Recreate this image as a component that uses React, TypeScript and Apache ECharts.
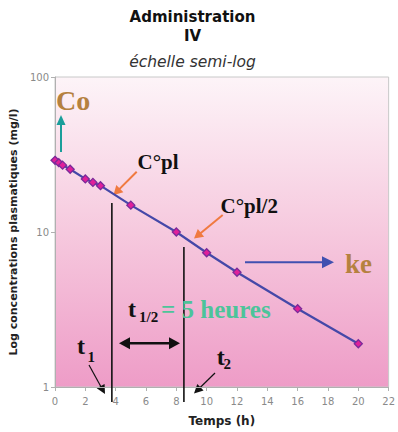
import React, { useEffect, useRef } from 'react';
import * as echarts from 'echarts';

const times = [0, 0.25, 0.5, 1, 2, 2.5, 3, 5, 8, 10, 12, 16, 20];
const concentrations = [29, 28, 27, 25.4, 22, 20.9, 19.9, 14.9, 10, 7.35, 5.5, 3.2, 1.9];
const titleLines = ['Administration', 'IV'];
const subtitle = 'échelle semi-log';
const yAxisName = 'Log concentrations plasmatiques (mg/l)';
const xAxisName = 'Temps (h)';
const xMin = 0;
const xMax = 22;
const xStep = 2;
const yMin = 1;
const yMax = 100;
const t1Time = 3.75;
const t2Time = 8.5;
const t1TopConc = 15.4;
const t2TopConc = 8.0;

const SERIF = "'Liberation Serif', 'DejaVu Serif', serif";
const SANS = "'DejaVu Sans', Verdana, sans-serif";

function arrow(x1: number, y1: number, x2: number, y2: number, color: string, lw: number, hl: number, hw: number, both = false) {
  const dx = x2 - x1, dy = y2 - y1;
  const L = Math.hypot(dx, dy);
  const ux = dx / L, uy = dy / L;
  const nx = -uy, ny = ux;
  const ex = x2 - ux * hl * 0.8, ey = y2 - uy * hl * 0.8;
  const sx = both ? x1 + ux * hl * 0.8 : x1, sy = both ? y1 + uy * hl * 0.8 : y1;
  const els: any[] = [
    { type: 'line', shape: { x1: sx, y1: sy, x2: ex, y2: ey }, style: { stroke: color, lineWidth: lw } },
  ];
  const bx = x2 - ux * hl, by = y2 - uy * hl;
  els.push({ type: 'polygon', shape: { points: [[x2, y2], [bx + nx * hw, by + ny * hw], [bx - nx * hw, by - ny * hw]] }, style: { fill: color } });
  if (both) {
    const cx = x1 + ux * hl, cy = y1 + uy * hl;
    els.push({ type: 'polygon', shape: { points: [[x1, y1], [cx + nx * hw, cy + ny * hw], [cx - nx * hw, cy - ny * hw]] }, style: { fill: color } });
  }
  return els;
}

function txt(text: string, x: number, y: number, font: string, fill: string, align = 'left') {
  return {
    type: 'text', x, y, z: 100,
    style: { text, font, fill, align, textAlign: align, verticalAlign: 'middle', textVerticalAlign: 'middle' },
  };
}

export default function App() {
  const ref = useRef<HTMLDivElement>(null);
  useEffect(() => {
    const chart = echarts.init(ref.current!, null, { renderer: 'svg' });
    const option: any = {
      animation: false,
      backgroundColor: '#ffffff',
      grid: {
        left: 55, right: 4, top: 77, bottom: 45,
        show: true,
        backgroundColor: new echarts.graphic.LinearGradient(0, 0, 0, 1, [
          { offset: 0, color: '#fdf4f8' },
          { offset: 0.5, color: '#f6c9de' },
          { offset: 1, color: '#ee9cc7' },
        ]),
        borderColor: '#c8c8c8', borderWidth: 1,
      },
      xAxis: {
        type: 'value', min: xMin, max: xMax, interval: xStep,
        name: xAxisName, nameLocation: 'middle', nameGap: 28,
        nameTextStyle: { fontFamily: SANS, fontWeight: 'bold', fontSize: 12, color: '#222' },
        axisLine: { show: true, lineStyle: { color: '#b0b0b0' } },
        axisTick: { show: true, length: 4, lineStyle: { color: '#b0b0b0' } },
        axisLabel: { fontFamily: SANS, fontSize: 10, color: '#8a8a8a', margin: 9 },
        splitLine: { show: false },
      },
      yAxis: {
        type: 'log', logBase: 10, min: yMin, max: yMax,
        name: yAxisName, nameLocation: 'middle', nameGap: 25, nameRotate: 90,
        nameTextStyle: { fontFamily: SANS, fontWeight: 'bold', fontSize: 11, color: '#222' },
        axisLine: { show: true, lineStyle: { color: '#b0b0b0' } },
        axisTick: { show: true, length: 4, lineStyle: { color: '#b0b0b0' } },
        axisLabel: { fontFamily: SANS, fontSize: 10, color: '#8a8a8a', margin: 6 },
        splitLine: { show: false },
        minorTick: { show: false },
      },
      series: [{
        type: 'line',
        data: times.map((t, i) => [t, concentrations[i]]),
        lineStyle: { color: '#4548a8', width: 2.2 },
        symbol: 'diamond', symbolSize: 8,
        itemStyle: { color: '#e0209a', borderColor: '#7a2a9a', borderWidth: 1.3 },
        z: 5,
      }],
    };
    chart.setOption(option);
    const p = (x: number, y: number) => chart.convertToPixel({ gridIndex: 0 }, [x, y]) as number[];
    const base = p(0, yMin);
    const v1Top = p(t1Time, t1TopConc);
    const v2Top = p(t2Time, t2TopConc);
    const vBottom = base[1] + 15;
    const graphics: any[] = [
      txt(titleLines[0], 192.5, 16.5, `bold 15px ${SANS}`, '#111', 'center'),
      txt(titleLines[1], 192.5, 35.5, `bold 15px ${SANS}`, '#111', 'center'),
      txt(subtitle, 192.5, 61.5, `italic 15.5px ${SANS}`, '#333', 'center'),
      { type: 'line', z: 50, shape: { x1: v1Top[0], y1: v1Top[1], x2: v1Top[0], y2: vBottom }, style: { stroke: '#111', lineWidth: 1.6 } },
      { type: 'line', z: 50, shape: { x1: v2Top[0], y1: v2Top[1], x2: v2Top[0], y2: vBottom }, style: { stroke: '#111', lineWidth: 1.6 } },
      ...arrow(61, 152, 61, 115, '#1a9e9a', 2, 10, 4.5),
      ...arrow(136.7, 171.7, 113.5, 195, '#f07a40', 2, 9, 5),
      ...arrow(222.7, 215, 194, 238.5, '#f07a40', 2, 9, 5),
      ...arrow(245, 262.3, 334, 262.3, '#4050b0', 2, 12, 6),
      ...arrow(119, 343.3, 180, 343.3, '#111', 2.5, 11, 6, true),
      ...arrow(89, 365, 105, 394, '#111', 1.2, 9, 4.5),
      ...arrow(215, 373, 194, 393.5, '#111', 1.2, 9, 4.5),
      txt('Co', 56, 100.5, `bold 28px ${SERIF}`, '#b5813f'),
      txt('C°pl', 137.5, 162, `bold 21px ${SERIF}`, '#111'),
      txt('C°pl/2', 220.5, 205.5, `bold 21px ${SERIF}`, '#111'),
      txt('ke', 345, 264, `bold 27px ${SERIF}`, '#b5813f'),
      txt('t', 128, 308.5, `bold 24px ${SERIF}`, '#111'),
      txt('1/2', 139, 317, `bold 15px ${SERIF}`, '#111'),
      txt('= 5 heures', 161, 309.8, `bold 25px ${SERIF}`, '#4cc49a'),
      txt('t', 77, 346, `bold 24px ${SERIF}`, '#111'),
      txt('1', 87.5, 357, `bold 15px ${SERIF}`, '#111'),
      txt('t', 216.7, 357, `bold 24px ${SERIF}`, '#111'),
      txt('2', 223.5, 364, `bold 15px ${SERIF}`, '#111'),
    ];
    chart.setOption({ graphic: graphics });
    return () => chart.dispose();
  }, []);
  return <div ref={ref} style={{ position: 'absolute', left: 0, top: 0, width: 398, height: 432 }} />;
}
